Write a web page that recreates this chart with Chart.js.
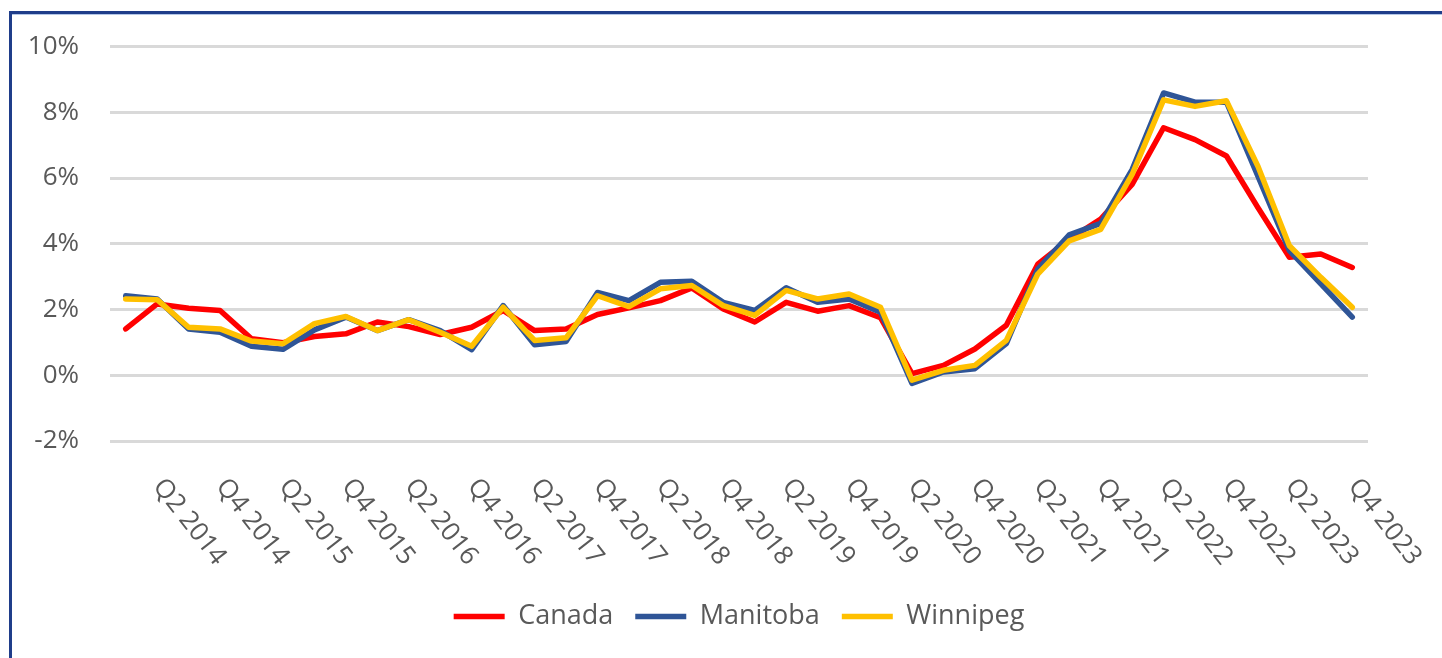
<!DOCTYPE html>
<html>
<head>
<meta charset="utf-8">
<script src="https://cdn.jsdelivr.net/npm/chart.js@4"></script>
<style>
  html, body { margin: 0; padding: 0; background: #fff; }
  #wrap { position: relative; width: 1442px; height: 658px; overflow: hidden; }
  #frame {
    position: absolute; left: 9px; top: 11px; right: -10px; bottom: -10px;
    border-top: 3px solid #1f3d8a; border-left: 3px solid #1f3d8a;
    box-shadow: inset 0 1px 0 #b4c7e7;
  }
  #cpiChart { position: absolute; left: 0; top: 0; }
</style>
</head>
<body>
<div id="wrap">
  <div id="frame"></div>
  <canvas id="cpiChart" width="1442" height="658"></canvas>
</div>

<script>
/* ================= DATA ================= */
const quarters = [
  "Q1 2014", "Q2 2014", "Q3 2014", "Q4 2014",
  "Q1 2015", "Q2 2015", "Q3 2015", "Q4 2015",
  "Q1 2016", "Q2 2016", "Q3 2016", "Q4 2016",
  "Q1 2017", "Q2 2017", "Q3 2017", "Q4 2017",
  "Q1 2018", "Q2 2018", "Q3 2018", "Q4 2018",
  "Q1 2019", "Q2 2019", "Q3 2019", "Q4 2019",
  "Q1 2020", "Q2 2020", "Q3 2020", "Q4 2020",
  "Q1 2021", "Q2 2021", "Q3 2021", "Q4 2021",
  "Q1 2022", "Q2 2022", "Q3 2022", "Q4 2022",
  "Q1 2023", "Q2 2023", "Q3 2023", "Q4 2023"
];

// only every second quarter gets a label on the axis
const tickLabels = [
  "Q2 2014", "Q4 2014", "Q2 2015", "Q4 2015", "Q2 2016", "Q4 2016",
  "Q2 2017", "Q4 2017", "Q2 2018", "Q4 2018", "Q2 2019", "Q4 2019",
  "Q2 2020", "Q4 2020", "Q2 2021", "Q4 2021", "Q2 2022", "Q4 2022",
  "Q2 2023", "Q4 2023"
];

const canada = [
  1.41, 2.17, 2.04, 1.97, 1.11, 0.99, 1.18, 1.26, 1.62, 1.48,
  1.24, 1.46, 1.97, 1.36, 1.41, 1.85, 2.05, 2.27, 2.66, 2.02,
  1.62, 2.22, 1.95, 2.12, 1.75, 0.05, 0.30, 0.80, 1.52, 3.38,
  4.14, 4.75, 5.81, 7.53, 7.17, 6.67, 5.10, 3.59, 3.69, 3.28
];

const manitoba = [
  2.42, 2.32, 1.41, 1.31, 0.88, 0.79, 1.38, 1.77, 1.36, 1.69,
  1.36, 0.78, 2.12, 0.93, 1.03, 2.52, 2.27, 2.83, 2.86, 2.22,
  1.97, 2.66, 2.22, 2.32, 1.92, -0.25, 0.10, 0.20, 0.96, 3.23,
  4.27, 4.62, 6.26, 8.59, 8.31, 8.31, 6.06, 3.79, 2.78, 1.77
];

const winnipeg = [
  2.32, 2.30, 1.46, 1.41, 1.04, 0.96, 1.57, 1.79, 1.36, 1.69,
  1.31, 0.88, 2.07, 1.06, 1.14, 2.42, 2.09, 2.63, 2.73, 2.12,
  1.82, 2.58, 2.32, 2.47, 2.07, -0.15, 0.15, 0.30, 1.06, 3.08,
  4.09, 4.44, 6.11, 8.38, 8.18, 8.35, 6.36, 3.94, 2.98, 2.07
];

const yTicks = [-2, 0, 2, 4, 6, 8, 10];

/* ================= STYLE ================= */
const FONT = "'Open Sans', 'Noto Sans', sans-serif";
const TEXT_COLOR = "#595959";

function lineSet(label, data, color, order) {
  return {
    label: label,
    data: data,
    borderColor: color,
    backgroundColor: color,
    borderWidth: 5.5,
    borderCapStyle: "round",
    borderJoinStyle: "round",
    pointRadius: 0,
    pointHoverRadius: 0,
    pointStyle: "line",
    tension: 0,
    order: order
  };
}

/* ================= SLANTED X LABELS ================= */
// Chart.js only rotates counter-clockwise, the original slants down to the right
const slantLabels = {
  id: "slantLabels",
  afterDraw(chart) {
    const ctx = chart.ctx;
    const xScale = chart.scales.x;
    const top = chart.chartArea.bottom;
    ctx.save();
    ctx.font = "26px " + FONT;
    ctx.fillStyle = TEXT_COLOR;
    ctx.textAlign = "left";
    ctx.textBaseline = "middle";
    quarters.forEach((q, i) => {
      if (!tickLabels.includes(q)) return;
      const x = xScale.getPixelForValue(i);
      ctx.save();
      ctx.translate(x + 1, top + 41);
      ctx.rotate(52 * Math.PI / 180);
      ctx.fillText(q, 0, 0);
      ctx.restore();
    });
    ctx.restore();
  }
};

/* ================= CHART ================= */
const ctx = document.getElementById("cpiChart").getContext("2d");

new Chart(ctx, {
  type: "line",
  data: {
    labels: quarters,
    datasets: [
      lineSet("Canada", canada, "#ff0000", 3),
      lineSet("Manitoba", manitoba, "#2f5597", 2),
      lineSet("Winnipeg", winnipeg, "#ffc000", 1)
    ]
  },
  options: {
    responsive: false,
    animation: false,
    devicePixelRatio: 1,
    layout: {
      padding: { top: 45, right: 74, bottom: 18, left: 0 }
    },
    scales: {
      x: {
        offset: true,
        grid: { display: false },
        border: { display: false },
        ticks: { display: false },
        afterFit(scale) { scale.height = 140; }
      },
      y: {
        min: -2,
        max: 10,
        afterBuildTicks(scale) {
          scale.ticks = yTicks.map(v => ({ value: v }));
        },
        grid: { color: "#d9d9d9", lineWidth: 3, drawTicks: false },
        border: { display: false },
        ticks: {
          padding: 31,
          color: TEXT_COLOR,
          font: { family: FONT, size: 26 },
          callback: v => v + "%"
        },
        afterFit(scale) { scale.width = 110; }
      }
    },
    plugins: {
      legend: {
        position: "bottom",
        fullSize: false,
        labels: {
          usePointStyle: true,
          pointStyleWidth: 51,
          padding: 22,
          color: TEXT_COLOR,
          font: { family: FONT, size: 27 },
          sort: (a, b) => a.datasetIndex - b.datasetIndex
        }
      },
      tooltip: { enabled: false }
    }
  },
  plugins: [slantLabels]
});
</script>
</body>
</html>
